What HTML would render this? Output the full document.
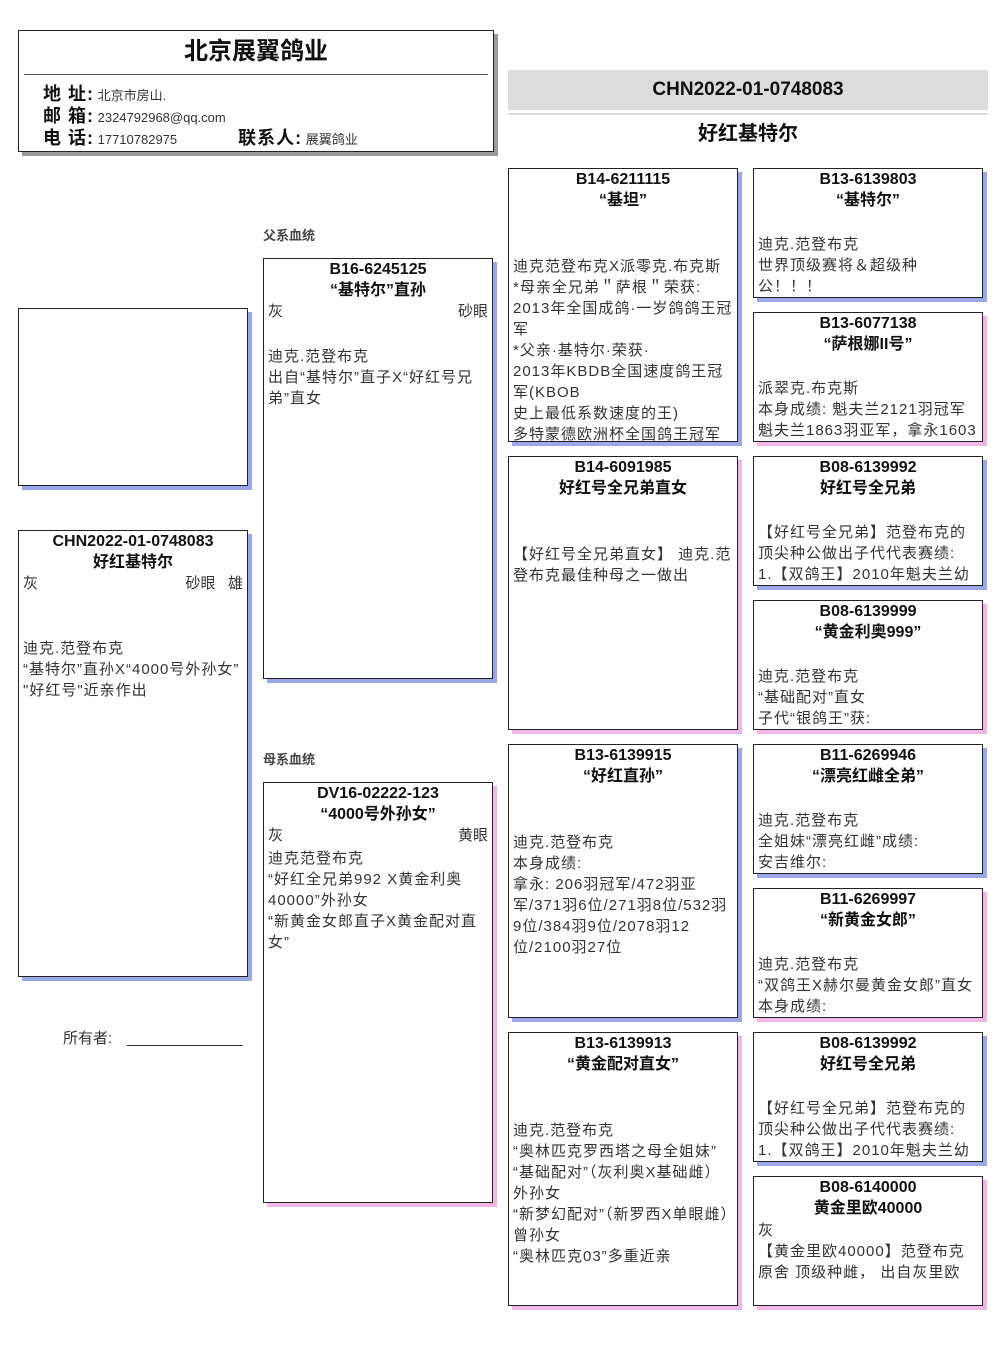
<!DOCTYPE html>
<html><head><meta charset="utf-8">
<style>
*{margin:0;padding:0;box-sizing:border-box}
body{width:1006px;height:1366px;background:#fff;position:relative;font-family:"Liberation Sans","Noto Sans CJK SC",sans-serif;color:#222;overflow:hidden}
.b{position:absolute;border:1px solid #222;background:#fff;overflow:hidden;box-shadow:4px 4px 0 #9aa8e8}
.p{box-shadow:4px 4px 0 #f2b6e6}
.t{text-align:center;font-weight:bold;font-size:16px;line-height:21px;color:#111;margin-top:0px}
.bd{position:absolute;left:4px;right:3px;font-size:15px;line-height:21px;color:#333;letter-spacing:1px}
.row{display:flex;justify-content:space-between;font-size:15px;line-height:21px;color:#333;padding:0 4px}
.lab{position:absolute;font-size:13px;font-weight:bold;color:#444}
.hl{font-size:18px;color:#111;font-weight:bold;letter-spacing:1px}
</style></head><body>

<div class="b" style="left:18px;top:30px;width:476px;height:122px;box-shadow:4px 4px 0 #9a9a9a">
  <div style="text-align:center;font-weight:bold;font-size:24px;line-height:40px;color:#111;margin-top:1px">北京展翼鸽业</div>
  <div style="position:absolute;left:5px;right:5px;top:43px;border-top:1px solid #555"></div>
  <div style="position:absolute;left:24px;top:53px;font-size:13px;line-height:21px;color:#333">
    <div><span class="hl">地 址:</span> 北京市房山.</div>
    <div><span class="hl">邮 箱:</span> 2324792968@qq.com</div>
    <div><span class="hl">电 话:</span> 17710782975<span style="display:inline-block;width:61px"></span><span class="hl">联系人:</span> 展翼鸽业</div>
  </div>
</div>

<div style="position:absolute;left:508px;top:70px;width:480px;height:40px;background:#dcdcdc;text-align:center;font-weight:bold;font-size:19px;line-height:40px;color:#111">CHN2022-01-0748083</div>
<div style="position:absolute;left:508px;top:113px;width:480px;border-top:2px solid #ddd"></div>
<div style="position:absolute;left:508px;top:120px;width:480px;text-align:center;font-weight:bold;font-size:20px;line-height:28px;color:#111">好红基特尔</div>

<div class="b" style="left:18px;top:308px;width:230px;height:178px"></div>

<div class="b" style="left:18px;top:530px;width:230px;height:447px">
  <div class="t">CHN2022-01-0748083<br>好红基特尔</div>
  <div class="row"><span>灰</span><span>砂眼&nbsp;&nbsp;&nbsp;雄</span></div>
  <div class="bd" style="top:107px">迪克.范登布克<br>“基特尔”直孙X“4000号外孙女”<br>"好红号"近亲作出</div>
</div>
<div style="position:absolute;left:63px;top:1027px;font-size:15px;color:#333">所有者:</div>
<div style="position:absolute;left:127px;top:1045px;width:116px;border-top:1px solid #333"></div>

<div class="lab" style="left:263px;top:225px">父系血统</div>
<div class="b" style="left:263px;top:258px;width:230px;height:421px">
  <div class="t">B16-6245125<br>“基特尔”直孙</div>
  <div class="row"><span>灰</span><span>砂眼</span></div>
  <div class="bd" style="top:87px">迪克.范登布克<br>出自“基特尔”直子X“好红号兄弟”直女</div>
</div>
<div class="lab" style="left:263px;top:749px">母系血统</div>
<div class="b p" style="left:263px;top:782px;width:230px;height:421px">
  <div class="t">DV16-02222-123<br>“4000号外孙女”</div>
  <div class="row"><span>灰</span><span>黄眼</span></div>
  <div class="bd" style="top:65px">迪克范登布克<br>“好红全兄弟992 X黄金利奥40000”外孙女<br>“新黄金女郎直子X黄金配对直女”</div>
</div>

<div class="b" style="left:508px;top:168px;width:230px;height:274px">
  <div class="t">B14-6211115<br>“基坦”</div>
  <div class="bd" style="top:87px">迪克范登布克X派零克.布克斯<br>*母亲全兄弟＂萨根＂荣获:<br>2013年全国成鸽·一岁鸽鸽王冠军<br>*父亲·基特尔·荣获·<br>2013年KBDB全国速度鸽王冠军(KBOB<br>史上最低系数速度的王)<br>多特蒙德欧洲杯全国鸽王冠军</div>
</div>
<div class="b p" style="left:508px;top:456px;width:230px;height:274px">
  <div class="t">B14-6091985<br>好红号全兄弟直女</div>
  <div class="bd" style="top:87px">【好红号全兄弟直女】 迪克.范登布克最佳种母之一做出</div>
</div>
<div class="b" style="left:508px;top:744px;width:230px;height:274px">
  <div class="t">B13-6139915<br>“好红直孙”</div>
  <div class="bd" style="top:87px">迪克.范登布克<br>本身成绩:<br>拿永: 206羽冠军/472羽亚军/371羽6位/271羽8位/532羽9位/384羽9位/2078羽12位/2100羽27位</div>
</div>
<div class="b p" style="left:508px;top:1032px;width:230px;height:274px">
  <div class="t">B13-6139913<br>“黄金配对直女”</div>
  <div class="bd" style="top:87px">迪克.范登布克<br>“奥林匹克罗西塔之母全姐妹”<br>“基础配对”（灰利奥X基础雌）外孙女<br>“新梦幻配对”（新罗西X单眼雌）曾孙女<br>“奥林匹克03”多重近亲</div>
</div>

<div class="b" style="left:753px;top:168px;width:230px;height:130px">
  <div class="t">B13-6139803<br>“基特尔”</div>
  <div class="bd" style="top:65px">迪克.范登布克<br>世界顶级赛将＆超级种<br>公！！！</div>
</div>
<div class="b p" style="left:753px;top:312px;width:230px;height:130px">
  <div class="t">B13-6077138<br>“萨根娜II号”</div>
  <div class="bd" style="top:65px;white-space:nowrap">派翠克.布克斯<br>本身成绩: 魁夫兰2121羽冠军<br>魁夫兰1863羽亚军，拿永1603</div>
</div>
<div class="b" style="left:753px;top:456px;width:230px;height:130px">
  <div class="t">B08-6139992<br>好红号全兄弟</div>
  <div class="bd" style="top:65px;white-space:nowrap">【好红号全兄弟】范登布克的<br>顶尖种公做出子代代表赛绩:<br>1.【双鸽王】2010年魁夫兰幼</div>
</div>
<div class="b p" style="left:753px;top:600px;width:230px;height:130px">
  <div class="t">B08-6139999<br>“黄金利奥999”</div>
  <div class="bd" style="top:65px">迪克.范登布克<br>“基础配对”直女<br>子代“银鸽王”获:</div>
</div>
<div class="b" style="left:753px;top:744px;width:230px;height:130px">
  <div class="t">B11-6269946<br>“漂亮红雌全弟”</div>
  <div class="bd" style="top:65px">迪克.范登布克<br>全姐妹“漂亮红雌”成绩:<br>安吉维尔:</div>
</div>
<div class="b p" style="left:753px;top:888px;width:230px;height:130px">
  <div class="t">B11-6269997<br>“新黄金女郎”</div>
  <div class="bd" style="top:65px;white-space:nowrap">迪克.范登布克<br>“双鸽王X赫尔曼黄金女郎”直女<br>本身成绩:</div>
</div>
<div class="b" style="left:753px;top:1032px;width:230px;height:130px">
  <div class="t">B08-6139992<br>好红号全兄弟</div>
  <div class="bd" style="top:65px;white-space:nowrap">【好红号全兄弟】范登布克的<br>顶尖种公做出子代代表赛绩:<br>1.【双鸽王】2010年魁夫兰幼</div>
</div>
<div class="b p" style="left:753px;top:1176px;width:230px;height:130px">
  <div class="t">B08-6140000<br>黄金里欧40000</div>
  <div class="bd" style="top:43px">灰<br>【黄金里欧40000】范登布克<br>原舍 顶级种雌， 出自灰里欧</div>
</div>

</body></html>
